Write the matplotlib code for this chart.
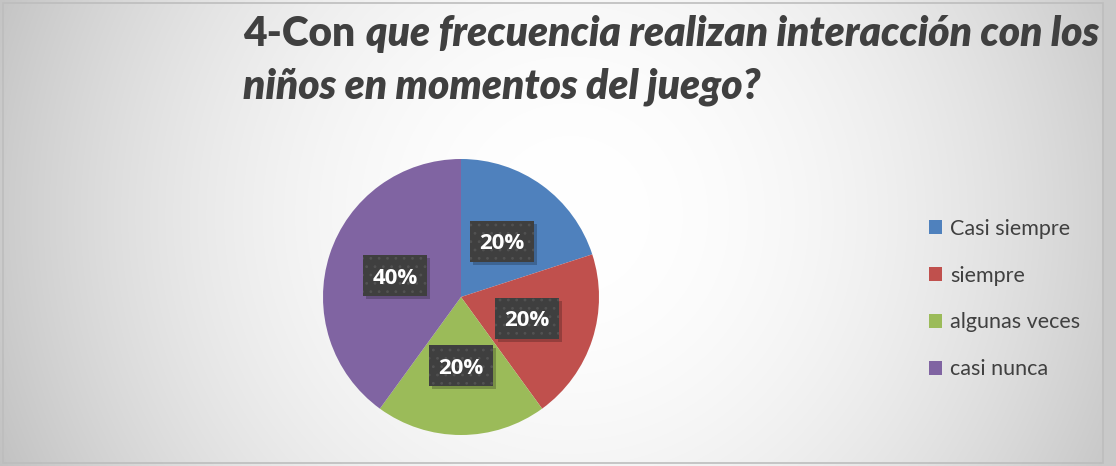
import numpy as np
import matplotlib
matplotlib.use("Agg")
import matplotlib.pyplot as plt
from matplotlib.patches import Rectangle

# ---------------- data ----------------
categories = ["Casi siempre", "siempre", "algunas veces", "casi nunca"]
values = [20, 20, 20, 40]
colors = ["#4F81BD", "#C0504D", "#9BBB59", "#8064A2"]
title_upright = "4-Con"
title_italic_1 = "que frecuencia realizan interacción con los"
title_line_2 = "niños en momentos del juego?"

W, H = 1116, 466
FONT = "Lato"
LABEL_FONT = "Open Sans"
TXT = "#404040"
plt.rcParams["hatch.linewidth"] = 0.8

fig = plt.figure(figsize=(W / 100, H / 100), dpi=100)

# ---------------- background (radial gradient) ----------------
bg = fig.add_axes([0, 0, 1, 1])
bg.set_axis_off()
yy, xx = np.mgrid[0:H, 0:W]
cxb, cyb = 570, 215
d = np.sqrt((xx - cxb) ** 2 + (yy - cyb) ** 2) / 605.0
v = (255 - 58 * np.clip(d, 0, 1.1) ** 2) / 255.0
img = np.dstack([v, v, v])
bg.imshow(img, extent=[0, W, H, 0], aspect="auto", interpolation="bilinear")
bg.set_xlim(0, W)
bg.set_ylim(H, 0)
bg.add_patch(Rectangle((1102, 0), W - 1102, H, facecolor="#c9c9c9", edgecolor="none"))
bg.add_patch(Rectangle((2.5, 2.5), 1100, H - 6, facecolor="none", edgecolor="#bdbdbd", lw=1.2))

# ---------------- pie ----------------
cx_px, cy_px, r_px = 461, 297, 138
ax = fig.add_axes([(cx_px - r_px) / W, (H - cy_px - r_px) / H, 2 * r_px / W, 2 * r_px / H])
wedges, texts, autotexts = ax.pie(
    values, colors=colors, startangle=90, counterclock=False,
    autopct="%1.0f%%", pctdistance=0.5,
    wedgeprops=dict(linewidth=0, antialiased=True),
)
ax.set_xlim(-1, 1)
ax.set_ylim(-1, 1)

bw, bh = 64 / r_px, 41 / r_px
for t in autotexts:
    x, y = t.get_position()
    ax.add_patch(Rectangle((x - bw / 2 + 3 / r_px, y - bh / 2 - 3 / r_px), bw, bh,
                           facecolor="black", edgecolor="none", alpha=0.22, zorder=3))
    ax.add_patch(Rectangle((x - bw / 2, y - bh / 2), bw, bh,
                           facecolor="#3f3f3f", edgecolor="#525252", lw=0,
                           hatch="..", zorder=4))
    t.set_zorder(5)
    t.set_color("white")
    t.set_fontsize(16)
    t.set_fontweight("bold")
    t.set_family(LABEL_FONT)
    t.set_va("center_baseline")
    t.set_ha("center")

# ---------------- legend ----------------
fig.legend(
    wedges, categories, loc="center left",
    bbox_to_anchor=(929 / W, (H - 299) / H),
    frameon=False, prop=dict(family=FONT, size=15.5),
    handlelength=0.62, handleheight=0.62, handletextpad=0.35,
    labelspacing=1.25, borderpad=0, borderaxespad=0,
    labelcolor=TXT,
)

# ---------------- title ----------------
x0 = 243 / W
fs = 24
t1 = fig.text(x0, (H - 46) / H, title_upright, fontsize=fs, fontweight="heavy",
              family=FONT, color=TXT, va="baseline", ha="left")
fig.canvas.draw()
r = fig.canvas.get_renderer()
e1 = t1.get_window_extent(r)
gap = 9
t2 = fig.text((e1.x1 + gap) / W, (H - 46) / H, title_italic_1, fontsize=fs,
              fontweight="heavy", style="italic", family=FONT, color=TXT,
              va="baseline", ha="left")
fig.canvas.draw()
e2 = t2.get_window_extent(r)
scale = (1102 - 243) / (e2.x1 - e1.x0)
fs2 = fs * scale
t1.set_fontsize(fs2)
fig.canvas.draw()
e1 = t1.get_window_extent(r)
t2.set_fontsize(fs2)
t2.set_x((e1.x1 + gap * scale) / W)
fig.text(x0, (H - 99) / H, title_line_2, fontsize=fs2, fontweight="heavy",
         style="italic", family=FONT, color=TXT, va="baseline", ha="left")

fig.savefig("out.png", dpi=100)
